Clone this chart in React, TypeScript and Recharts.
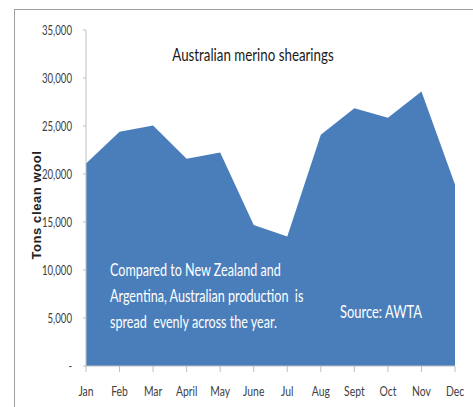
import React from 'react';
import { AreaChart, Area, XAxis, YAxis } from 'recharts';

const months = ['Jan', 'Feb', 'Mar', 'April', 'May', 'June', 'Jul', 'Aug', 'Sept', 'Oct', 'Nov', 'Dec'];
const shearings = [21100, 24400, 25050, 21600, 22250, 14700, 13500, 24100, 26850, 25850, 28600, 18900];
const yTicks = [0, 5000, 10000, 15000, 20000, 25000, 30000, 35000];

const noteLines = [
  'Compared to New Zealand and',
  'Argentina, Australian production  is',
  'spread  evenly across the year.',
];

// the source looks like Calibri squeezed sideways, so Lato is narrowed with scaleX
const face = 'Lato, "Open Sans", sans-serif';
const squeeze = 0.74;
const fill = '#4A7EBB';

const fmtY = (v: number) => (v === 0 ? '-' : v.toLocaleString('en-US'));

const XTick = ({ x, y, payload }: any) => (
  <text
    transform={`translate(${x},${y + 9}) scale(${squeeze},1)`}
    textAnchor="middle"
    dy="0.9em"
    fontFamily={face}
    fontSize={14}
    fill="#404040"
  >
    {payload.value}
  </text>
);

const YTick = ({ x, y, payload }: any) => (
  <text
    transform={`translate(${x - 9},${y}) scale(${squeeze},1)`}
    textAnchor="end"
    dy="0.36em"
    fontFamily={face}
    fontSize={13}
    fill="#404040"
  >
    {fmtY(payload.value)}
  </text>
);

const Squeezed = ({ x, y, size, color, children }: any) => (
  <text
    transform={`translate(${x},${y}) scale(${squeeze},1)`}
    fontFamily={face}
    fontSize={size}
    fill={color}
    style={{ whiteSpace: 'pre' }}
  >
    {children}
  </text>
);

export default function App() {
  const data = months.map((m, i) => ({ month: m, tons: shearings[i] }));

  return (
    <div style={{ position: 'absolute', left: 0, top: 0, width: 473, height: 407, background: '#fff', overflow: 'hidden' }}>
      {/* frame */}
      <div style={{ position: 'absolute', left: 14, top: 9, width: 470, height: 410, borderTop: '1px solid #a0a0a0', borderLeft: '1px solid #a0a0a0' }} />
      <AreaChart width={473} height={407} data={data} margin={{ top: 30, right: 18, left: 26, bottom: 0 }}>
        <XAxis dataKey="month" height={41} stroke="#bfbfbf" tickSize={6} tick={<XTick />} interval={0} />
        <YAxis
          width={60}
          domain={[0, 35000]}
          ticks={yTicks}
          stroke="#bfbfbf"
          tickSize={3}
          tick={<YTick />}
          interval={0}
        />
        <Area type="linear" dataKey="tons" stroke="none" fill={fill} fillOpacity={1} isAnimationActive={false} />
      </AreaChart>
      <svg width={473} height={407} style={{ position: 'absolute', left: 0, top: 0, pointerEvents: 'none' }}>
        <text
          transform={`translate(253,61) scale(${squeeze},1)`}
          textAnchor="middle"
          fontFamily={face}
          fontSize={18}
          fill="#1a1a1a"
        >
          Australian merino shearings
        </text>
        <text
          transform="translate(41,205) rotate(-90)"
          textAnchor="middle"
          fontFamily='"Liberation Sans", Arial, sans-serif'
          fontWeight="bold"
          fontSize={13}
          letterSpacing={0.6}
          fill="#222"
        >
          Tons clean wool
        </text>
        {noteLines.map((t, i) => (
          <Squeezed key={i} x={110} y={276 + i * 26} size={17} color="#fff">
            {t}
          </Squeezed>
        ))}
        <Squeezed x={340} y={318} size={17.5} color="#fff">
          Source: AWTA
        </Squeezed>
      </svg>
    </div>
  );
}
